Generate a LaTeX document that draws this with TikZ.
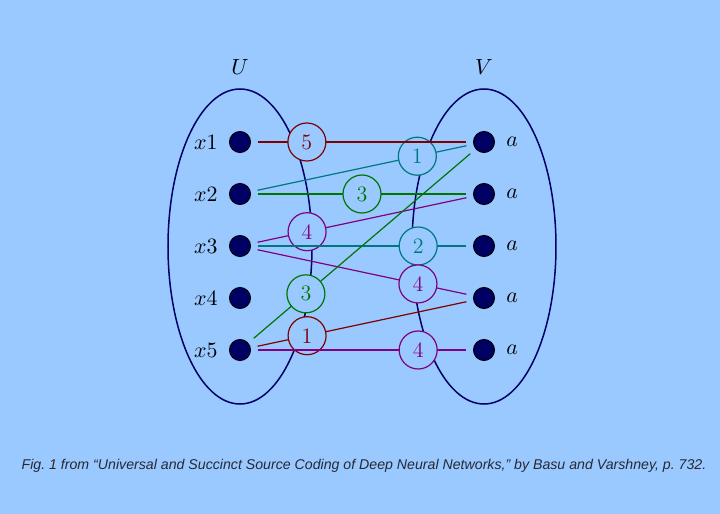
\documentclass[tikz,border=0pt]{standalone}
\usepackage{fontspec}
\setsansfont{Liberation Sans}
\usepackage{xcolor}
\usepackage{tikz}
\usetikzlibrary{positioning,shapes.geometric}

\definecolor{bgblue}{RGB}{153,201,255}
\definecolor{setnavy}{RGB}{0,0,102}
\definecolor{dotnavy}{RGB}{0,0,100}
\definecolor{wred}{RGB}{128,0,0}
\definecolor{wteal}{RGB}{0,118,128}
\definecolor{wgreen}{RGB}{0,118,0}
\definecolor{wpurple}{RGB}{128,0,128}
\definecolor{captext}{RGB}{40,40,52}

\begin{document}
\begin{tikzpicture}[x=0.5pt, y=-0.5pt,
    setshape/.style={ellipse, draw=setnavy, line width=0.75pt,
                     minimum width=72pt, minimum height=157.5pt, inner sep=0pt},
    vtx/.style={circle, draw=black, fill=dotnavy, line width=0.5pt,
                minimum size=10.5pt, inner sep=0pt, outer sep=3.75pt},
    wt/.style={circle, draw, fill=bgblue, line width=0.6pt,
               minimum size=19pt, inner sep=0pt, font=\fontsize{11}{13}\selectfont},
    edge/.style={line width=0.6pt},
    lbl/.style={font=\fontsize{11}{13}\selectfont, inner sep=2pt}
]

% --- background and frame ---
\fill[bgblue] (0,0) rectangle (720,514);
\useasboundingbox (0,0) rectangle (720,514);

% --- the two vertex sets ---
\node[setshape] (Uset) at (240,246.5) {};
\node[setshape] (Vset) at (484,246.5) {};
\node[lbl] (Ulbl) at (240,67) {$U$};
\node[lbl] (Vlbl) at (484,67) {$V$};

% --- left vertices ---
\node[vtx] (x1) at (240,142) {};
\node[vtx] (x2) at (240,194) {};
\node[vtx] (x3) at (240,246) {};
\node[vtx] (x4) at (240,298) {};
\node[vtx] (x5) at (240,350) {};
\node[lbl, left=0pt of x1] (x1lbl) {$x1$};
\node[lbl, left=0pt of x2] (x2lbl) {$x2$};
\node[lbl, left=0pt of x3] (x3lbl) {$x3$};
\node[lbl, left=0pt of x4] (x4lbl) {$x4$};
\node[lbl, left=0pt of x5] (x5lbl) {$x5$};

% --- right vertices ---
\node[vtx] (a1) at (484,142) {};
\node[vtx] (a2) at (484,194) {};
\node[vtx] (a3) at (484,246) {};
\node[vtx] (a4) at (484,298) {};
\node[vtx] (a5) at (484,350) {};
\node[lbl, right=0pt of a1] (a1lbl) {$a$};
\node[lbl, right=0pt of a2] (a2lbl) {$a$};
\node[lbl, right=0pt of a3] (a3lbl) {$a$};
\node[lbl, right=0pt of a4] (a4lbl) {$a$};
\node[lbl, right=0pt of a5] (a5lbl) {$a$};

% --- weighted edges (later ones run over earlier circles) ---
\draw[edge, wteal]   (x2) -- node[wt, pos=.765] (w21) {1} (a1);
\draw[edge, wred]    (x1) -- node[wt, pos=.235] (w11) {5} (a1);
\draw[edge, wgreen]  (x2) -- node[wt, pos=.5]   (w22) {3} (a2);
\draw[edge, wpurple] (x3) -- node[wt, pos=.237] (w32) {4} (a2);
\draw[edge, wteal]   (x3) -- node[wt, pos=.77]  (w33) {2} (a3);
\draw[edge, wpurple] (x3) -- node[wt, pos=.768] (w34) {4} (a4);
\draw[edge, wred]    (x5) -- node[wt, pos=.237] (w54) {1} (a4);
\draw[edge, wpurple] (x5) -- node[wt, pos=.77]  (w55) {4} (a5);
\draw[edge, wgreen]  (x5) -- node[wt, pos=.241] (w51) {3} (a1);

% --- source line ---
\node[font=\sffamily\itshape\fontsize{7.08}{8}\selectfont, text=captext] (caption) at (364,466)
    {Fig.~1 from “Universal and Succinct Source Coding of Deep Neural Networks,” by Basu and Varshney, p.~732.};

\end{tikzpicture}
\end{document}
